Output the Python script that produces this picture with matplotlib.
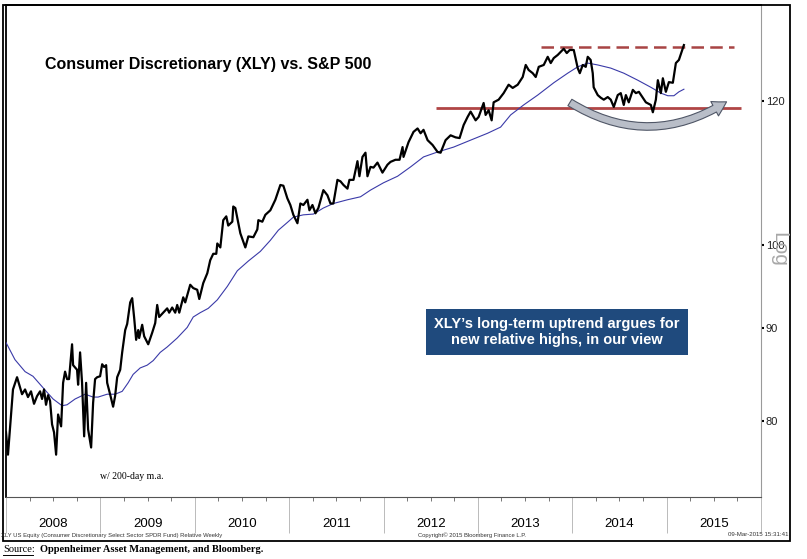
import matplotlib
matplotlib.use("Agg")
import matplotlib.pyplot as plt
import numpy as np
from matplotlib.patches import FancyArrowPatch, Rectangle
from matplotlib.lines import Line2D
from matplotlib.ticker import FixedLocator, NullFormatter, NullLocator

# XLY / S&P 500 relative, weekly (x in decimal years)
xly_t = [2008.000, 2008.021, 2008.074, 2008.117, 2008.170, 2008.202, 2008.233, 2008.265,
         2008.297, 2008.329, 2008.361, 2008.382, 2008.403, 2008.424, 2008.446, 2008.467,
         2008.488, 2008.509, 2008.531, 2008.552, 2008.584, 2008.605, 2008.626, 2008.647,
         2008.668, 2008.700, 2008.711, 2008.753, 2008.764, 2008.785, 2008.806, 2008.828,
         2008.849, 2008.870, 2008.902, 2008.923, 2008.944, 2008.966, 2008.997, 2009.019,
         2009.040, 2009.061, 2009.072, 2009.103, 2009.135, 2009.156, 2009.178, 2009.210,
         2009.231, 2009.263, 2009.284, 2009.316, 2009.337, 2009.358, 2009.379, 2009.401,
         2009.411, 2009.443, 2009.464, 2009.507, 2009.549, 2009.581, 2009.602, 2009.623,
         2009.666, 2009.708, 2009.729, 2009.761, 2009.793, 2009.814, 2009.836, 2009.878,
         2009.899, 2009.952, 2009.984, 2010.026, 2010.048, 2010.090, 2010.133, 2010.164,
         2010.196, 2010.228, 2010.239, 2010.271, 2010.302, 2010.334, 2010.355, 2010.398,
         2010.408, 2010.430, 2010.483, 2010.536, 2010.568, 2010.621, 2010.663, 2010.674,
         2010.716, 2010.748, 2010.801, 2010.854, 2010.907, 2010.939, 2010.981, 2011.013,
         2011.045, 2011.088, 2011.119, 2011.151, 2011.194, 2011.215, 2011.247, 2011.279,
         2011.310, 2011.363, 2011.406, 2011.438, 2011.469, 2011.512, 2011.544, 2011.576,
         2011.618, 2011.639, 2011.682, 2011.724, 2011.745, 2011.777, 2011.809, 2011.830,
         2011.862, 2011.894, 2011.936, 2011.989, 2012.042, 2012.074, 2012.127, 2012.170,
         2012.202, 2012.212, 2012.265, 2012.318, 2012.361, 2012.393, 2012.424, 2012.467,
         2012.520, 2012.573, 2012.605, 2012.658, 2012.711, 2012.764, 2012.806, 2012.849,
         2012.891, 2012.923, 2012.976, 2013.008, 2013.061, 2013.082, 2013.114, 2013.146,
         2013.167, 2013.220, 2013.273, 2013.326, 2013.369, 2013.422, 2013.475, 2013.507,
         2013.538, 2013.581, 2013.613, 2013.645, 2013.698, 2013.740, 2013.772, 2013.804,
         2013.846, 2013.878, 2013.910, 2013.942, 2013.973, 2014.016, 2014.058, 2014.080,
         2014.111, 2014.143, 2014.164, 2014.195, 2014.217, 2014.227, 2014.270, 2014.302,
         2014.334, 2014.376, 2014.408, 2014.440, 2014.482, 2014.514, 2014.546, 2014.568,
         2014.599, 2014.642, 2014.674, 2014.706, 2014.748, 2014.780, 2014.833, 2014.854,
         2014.886, 2014.907, 2014.939, 2014.960, 2014.992, 2015.024, 2015.066, 2015.098,
         2015.130, 2015.172, 2015.183]
xly_v = [78.9, 76.7, 83.3, 84.6, 82.8, 83.3, 82.5, 83.1,
         81.8, 82.6, 83.1, 82.3, 83.3, 81.7, 82.7, 82.1,
         79.7, 78.9, 76.7, 80.7, 79.5, 84.0, 85.2, 84.4,
         84.4, 88.2, 85.9, 85.4, 83.8, 87.3, 84.0, 78.5,
         84.0, 79.2, 77.4, 81.9, 84.4, 84.6, 84.7, 86.0,
         85.7, 85.9, 84.0, 82.8, 81.5, 82.6, 84.6, 85.4,
         87.3, 89.8, 90.5, 93.0, 93.5, 91.2, 88.7, 89.8,
         88.9, 90.4, 89.1, 88.2, 89.5, 90.6, 92.7, 91.3,
         91.8, 92.3, 91.8, 92.4, 91.8, 92.7, 91.8, 93.6,
         93.0, 95.1, 94.7, 94.5, 93.4, 95.3, 96.5, 98.1,
         98.9, 98.9, 100.2, 99.7, 103.2, 103.7, 102.5, 103.0,
         105.0, 104.8, 101.5, 99.7, 101.1, 101.0, 102.0, 103.2,
         103.0, 103.9, 104.5, 105.9, 107.9, 107.8, 106.1, 105.2,
         103.9, 102.8, 105.4, 105.2, 105.9, 104.5, 105.2, 104.1,
         104.8, 107.2, 106.5, 105.4, 105.4, 108.6, 108.4, 107.9,
         107.4, 108.6, 108.6, 111.2, 109.1, 111.8, 112.4, 109.1,
         110.4, 110.3, 111.0, 109.6, 110.7, 111.1, 111.4, 111.4,
         113.2, 111.8, 113.9, 115.4, 115.9, 115.2, 115.7, 114.2,
         113.5, 112.5, 112.4, 114.2, 114.9, 114.6, 114.5, 116.4,
         117.6, 118.4, 117.1, 117.6, 119.7, 117.9, 118.6, 117.1,
         119.8, 120.2, 121.2, 122.5, 122.0, 122.5, 123.7, 125.6,
         124.8, 124.3, 123.7, 125.3, 125.6, 126.9, 125.9, 126.7,
         127.2, 127.7, 128.2, 127.5, 128.0, 128.0, 125.1, 124.3,
         125.6, 125.3, 126.9, 126.4, 124.3, 122.1, 120.9, 120.5,
         120.2, 120.6, 120.2, 119.1, 120.9, 121.2, 119.4, 120.9,
         119.8, 121.7, 121.2, 121.4, 120.5, 119.8, 119.4, 118.3,
         120.2, 123.2, 121.2, 123.5, 121.4, 122.9, 122.8, 125.9,
         126.4, 128.3, 128.8]

# 200-day moving average
ma_t = [2008.000, 2008.095, 2008.202, 2008.286, 2008.435, 2008.499, 2008.594, 2008.647,
        2008.732, 2008.838, 2008.923, 2008.976, 2009.072, 2009.156, 2009.231, 2009.294,
        2009.347, 2009.422, 2009.496, 2009.560, 2009.634, 2009.708, 2009.814, 2009.920,
        2009.984, 2010.058, 2010.143, 2010.239, 2010.345, 2010.451, 2010.568, 2010.695,
        2010.801, 2010.886, 2010.981, 2011.045, 2011.151, 2011.257, 2011.363, 2011.469,
        2011.618, 2011.756, 2011.862, 2012.000, 2012.149, 2012.287, 2012.424, 2012.573,
        2012.743, 2012.923, 2013.103, 2013.241, 2013.347, 2013.485, 2013.634, 2013.804,
        2013.952, 2014.058, 2014.164, 2014.270, 2014.408, 2014.546, 2014.694, 2014.833,
        2014.939, 2015.013, 2015.077, 2015.130, 2015.183]
ma_v = [88.4, 86.5, 85.2, 84.7, 83.0, 82.3, 81.6, 81.7,
        82.3, 82.8, 82.5, 82.5, 82.8, 82.8, 83.1, 84.0,
        84.9, 85.6, 85.9, 86.4, 87.3, 87.9, 88.9, 90.1,
        91.3, 91.8, 92.3, 93.3, 94.9, 96.8, 98.0, 99.2,
        100.6, 101.9, 102.9, 103.6, 103.9, 104.0, 104.8, 105.4,
        105.9, 106.3, 107.2, 108.2, 109.1, 110.4, 111.8, 112.5,
        113.2, 114.2, 115.2, 116.1, 117.9, 119.4, 120.9, 122.8,
        124.3, 125.3, 125.9, 125.6, 125.1, 124.3, 123.2, 122.1,
        121.2, 120.8, 120.8, 121.4, 121.8]

years = [2008, 2009, 2010, 2011, 2012, 2013, 2014, 2015]
y_ticks = [80, 90, 100, 120]

resistance = 128.5
resistance_span = (2013.67, 2015.71)
support = 119.0
support_span = (2012.56, 2015.79)
arrow_from = (2013.95, 120.0)
arrow_to = (2015.66, 120.1)

narrow = ["Liberation Sans Narrow", "Liberation Sans"]

fig = plt.figure(figsize=(8.07, 5.59), dpi=100)
ax = fig.add_axes([6 / 807, 1 - 497 / 559, 755 / 807, 492 / 559])

ax.plot(ma_t, ma_v, color="#3a3aa8", lw=0.8, zorder=3)
ax.plot(xly_t, xly_v, color="black", lw=1.6, zorder=4)

ax.hlines(resistance, *resistance_span, colors="#a84444", lw=1.8,
          linestyles=(0, (5, 2.5)), zorder=2)
ax.hlines(support, *support_span, colors="#b04545", lw=2.0, zorder=2)

arc = FancyArrowPatch(arrow_from, arrow_to, connectionstyle="arc3,rad=0.32",
                      arrowstyle="simple,head_width=1.3,head_length=1.1,tail_width=0.6",
                      mutation_scale=9, fc="#b9bec8", ec="#4f5666", lw=0.8, zorder=5)
ax.add_patch(arc)

ax.set_yscale("log")
ax.set_xlim(2008, 2016)
ax.set_ylim(72.7, 135.5)

ax.yaxis.tick_right()
ax.yaxis.set_major_locator(FixedLocator(y_ticks))
ax.yaxis.set_minor_locator(NullLocator())
ax.yaxis.set_major_formatter(plt.FuncFormatter(lambda v, p: f"{v:g}"))
ax.yaxis.set_minor_formatter(NullFormatter())
ax.tick_params(axis="y", direction="out", length=2.5, width=1.5, pad=1,
               labelsize=8, labelcolor="#222222")
for lab in ax.get_yticklabels():
    lab.set_family(narrow)

ax.set_xticks(years + [2016])
ax.set_xticks([y + q / 4 for y in years for q in (1, 2, 3)], minor=True)
ax.set_xticklabels([])
ax.tick_params(axis="x", which="major", direction="out", length=26, width=0.6,
               color="#b0b0b0")
ax.tick_params(axis="x", which="minor", direction="out", length=3, width=0.6,
               color="#606060")
for y in years:
    ax.text(y + 0.5, -0.055, str(y), transform=ax.get_xaxis_transform(),
            ha="center", va="center", fontsize=9.5, family=narrow)

for side in ["left", "top"]:
    ax.spines[side].set_linewidth(1.3)
ax.spines["right"].set_color("#9a9a9a")
ax.spines["right"].set_linewidth(0.8)
ax.spines["bottom"].set_color("#555555")
ax.spines["bottom"].set_linewidth(0.8)

ax.text(0.052, 0.88, "Consumer Discretionary (XLY) vs. S&P 500", transform=ax.transAxes,
        fontsize=11.5, fontweight="bold", family="Liberation Sans", va="center")
ax.text(0.125, 0.042, "w/ 200-day m.a.", transform=ax.transAxes,
        fontsize=7, family="Liberation Serif", va="center")
ax.text(0.73, 0.335, "XLY\u2019s long-term uptrend argues for\nnew relative highs, in our view",
        transform=ax.transAxes, ha="center", va="center", color="white",
        fontsize=10.5, fontweight="bold", family="Liberation Sans", linespacing=1.15,
        bbox=dict(boxstyle="square,pad=0.55", fc="#1f4a7d", ec="none"), zorder=6)

fig.text(779 / 807, 1 - 249 / 559, "Log", rotation=270, color="#a8a8a8",
         fontsize=15, ha="center", va="center", family="Liberation Sans")

fig.patches.append(Rectangle((3 / 807, 1 - 541 / 559), 787 / 807, 536 / 559,
                             transform=fig.transFigure, fill=False, ec="black", lw=1.3))

small = dict(color="#333333", family=narrow, va="center")
fig.text(1 / 807, 1 - 535 / 559, "XLY US Equity (Consumer Discretionary Select Sector SPDR Fund) Relative Weekly",
         fontsize=4.2, **small)
fig.text(418 / 807, 1 - 535 / 559, "Copyright\u00a9 2015 Bloomberg Finance L.P.", fontsize=4.2, **small)
fig.text(789 / 807, 1 - 535 / 559, "09-Mar-2015 15:31:41", ha="right", fontsize=4.4, **small)
fig.text(3 / 807, 1 - 550 / 559, "Source:", fontsize=7.5, family="Liberation Serif",
         va="center")
fig.lines.append(Line2D([3 / 807, 33 / 807], [1 - 555 / 559, 1 - 555 / 559],
                        transform=fig.transFigure, color="black", lw=0.7))
fig.text(40 / 807, 1 - 550 / 559, "Oppenheimer Asset Management, and Bloomberg.", fontsize=7.5,
         family="Liberation Serif", va="center", fontweight="bold")

fig.savefig("out.png", dpi=100)
